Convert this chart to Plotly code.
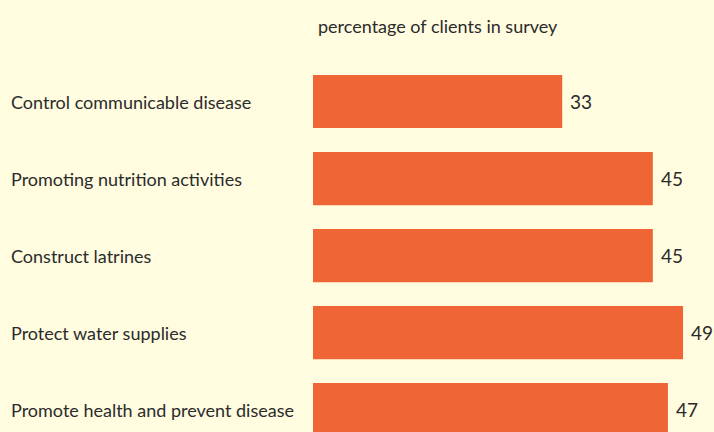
import plotly.graph_objects as go

categories = ['Control communicable disease', 'Promoting nutrition activities',
              'Construct latrines', 'Protect water supplies',
              'Promote health and prevent disease']
values = [33, 45, 45, 49, 47]
positions = [0, 1, 2, 3, 4]

font_fam = 'Lato, Liberation Sans Narrow, sans-serif'
bg = '#FFFCE0'

fig = go.Figure(go.Bar(x=values, y=positions, orientation='h',
                       marker=dict(color='#F06535', line=dict(width=0)),
                       width=0.69, hoverinfo='skip'))

for cat, val, pos in zip(categories, values, positions):
    # category label at the left
    fig.add_annotation(x=0, y=pos, xref='paper', yref='y', text=cat,
                       xanchor='left', yanchor='middle', xshift=-304,
                       showarrow=False, font=dict(family=font_fam, size=18, color='#2b2b2b'))
    # value at end of bar
    fig.add_annotation(x=val, y=pos, xref='x', yref='y', text=str(val),
                       xanchor='left', yanchor='middle', xshift=6,
                       showarrow=False, font=dict(family=font_fam, size=19, color='#2b2b2b'))

fig.add_annotation(x=(438 - 313) / 401, y=1, xref='paper', yref='paper',
                   text='percentage of clients in survey', xanchor='center', yanchor='middle',
                   yshift=37, showarrow=False, font=dict(family=font_fam, size=18, color='#2b2b2b'))

fig.update_xaxes(range=[0, 53.1], visible=False, fixedrange=True)
fig.update_yaxes(range=[4.29, -0.5], visible=False, fixedrange=True)
fig.update_layout(width=714, height=432, paper_bgcolor=bg, plot_bgcolor=bg,
                  margin=dict(l=313, r=0, t=63, b=0), showlegend=False)

fig.write_html('out.html', config={'displayModeBar': False},
               post_script="document.body.style.margin='0';")
